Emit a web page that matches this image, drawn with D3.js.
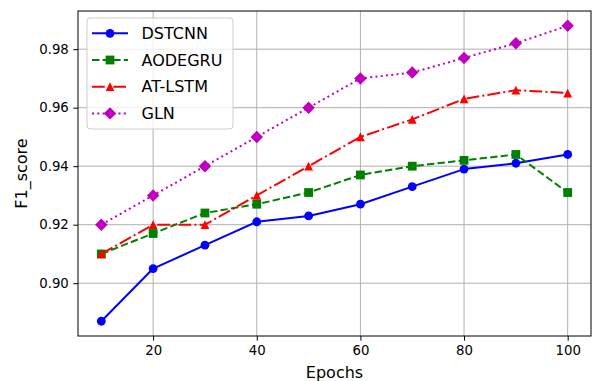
<!DOCTYPE html>
<html>
<head>
<meta charset="utf-8">
<script src="https://cdn.jsdelivr.net/npm/d3@7"></script>
<style>
body { margin: 0; background: white; }
text { font-family: "DejaVu Sans", sans-serif; fill: black; }
</style>
</head>
<body>
<svg width="594" height="381"></svg>
<script>
var width = 594, height = 381;

var epochs = [10, 20, 30, 40, 50, 60, 70, 80, 90, 100];
var dstcnn  = [0.887, 0.905, 0.913, 0.921, 0.923, 0.927, 0.933, 0.939, 0.941, 0.944];
var aodegru = [0.910, 0.917, 0.924, 0.927, 0.931, 0.937, 0.940, 0.942, 0.944, 0.931];
var atlstm  = [0.910, 0.920, 0.920, 0.930, 0.940, 0.950, 0.956, 0.963, 0.966, 0.965];
var gln     = [0.920, 0.930, 0.940, 0.950, 0.960, 0.970, 0.972, 0.977, 0.982, 0.988];
var xTicks = [20, 40, 60, 80, 100];
var yTicks = [0.90, 0.92, 0.94, 0.96, 0.98];

var series = [
    {name: 'DSTCNN',  values: dstcnn,  color: '#0000ff', dash: null,            marker: 'circle'},
    {name: 'AODEGRU', values: aodegru, color: '#008000', dash: '7.4,3.2',       marker: 'square'},
    {name: 'AT-LSTM', values: atlstm,  color: '#ff0000', dash: '12.8,3.2,2,3.2', marker: 'triangle'},
    {name: 'GLN',     values: gln,     color: '#bf00bf', dash: '2,3.3',         marker: 'diamond'}
];

// plot area edges
var pLeft = 78, pTop = 11, pRight = 591, pBottom = 336;
var ms = 8.8; // marker size in px

var svg = d3.select('svg');

var x = d3.scaleLinear().domain([5.5, 104.5]).range([pLeft, pRight]);
var y = d3.scaleLinear().domain([0.88195, 0.99305]).range([pBottom, pTop]);

// grid
svg.append('g').selectAll('line')
    .data(xTicks).enter().append('line')
    .attr('x1', function(d) { return x(d); }).attr('x2', function(d) { return x(d); })
    .attr('y1', pTop).attr('y2', pBottom)
    .attr('stroke', '#b0b0b0').attr('stroke-width', 1);
svg.append('g').selectAll('line')
    .data(yTicks).enter().append('line')
    .attr('y1', function(d) { return y(d); }).attr('y2', function(d) { return y(d); })
    .attr('x1', pLeft).attr('x2', pRight)
    .attr('stroke', '#b0b0b0').attr('stroke-width', 1);

// axes
var xAxis = svg.append('g')
    .attr('transform', 'translate(0,' + pBottom + ')')
    .call(d3.axisBottom(x).tickValues(xTicks).tickSize(4.7).tickPadding(4.5).tickFormat(d3.format('d')));
var yAxis = svg.append('g')
    .attr('transform', 'translate(' + pLeft + ',0)')
    .call(d3.axisLeft(y).tickValues(yTicks).tickSize(4.7).tickPadding(4.5).tickFormat(d3.format('.2f')));
[xAxis, yAxis].forEach(function(a) {
    a.select('.domain').remove();
    a.selectAll('text').style('font-size', '13.3px').attr('fill', 'black');
    a.selectAll('line').attr('stroke', 'black').attr('stroke-width', 1);
});

// frame
svg.append('rect')
    .attr('x', pLeft).attr('y', pTop)
    .attr('width', pRight - pLeft).attr('height', pBottom - pTop)
    .attr('fill', 'none').attr('stroke', 'black').attr('stroke-width', 1);

var symbols = {
    circle: d3.symbol().type(d3.symbolCircle).size(Math.PI * ms * ms / 4),
    square: d3.symbol().type(d3.symbolSquare).size(ms * ms),
    diamond: d3.symbol().type(d3.symbolSquare).size(ms * ms)
};
function markerPath(m) {
    var h = ms / 2;
    if (m === 'triangle') return 'M0,' + (-h) + 'L' + h + ',' + h + 'L' + (-h) + ',' + h + 'Z';
    return symbols[m]();
}
function markerTransform(m, px, py) {
    return 'translate(' + px + ',' + py + ')' + (m === 'diamond' ? 'rotate(45)' : '');
}

var line = d3.line()
    .x(function(d, i) { return x(epochs[i]); })
    .y(function(d) { return y(d); });

var gLines = svg.append('g');
series.forEach(function(s) {
    var g = gLines.append('g');
    g.append('path')
        .attr('d', line(s.values))
        .attr('fill', 'none')
        .attr('stroke', s.color)
        .attr('stroke-width', 2)
        .attr('stroke-dasharray', s.dash)
        .attr('stroke-linejoin', 'round');
    g.selectAll('.pt')
        .data(s.values).enter()
        .append('path')
        .attr('class', 'pt')
        .attr('d', markerPath(s.marker))
        .attr('transform', function(d, i) { return markerTransform(s.marker, x(epochs[i]), y(d)); })
        .attr('fill', s.color);
});

// legend
var legend = svg.append('g');
legend.append('rect')
    .attr('x', 87).attr('y', 18)
    .attr('width', 146).attr('height', 111)
    .attr('rx', 3)
    .attr('fill', 'white').attr('fill-opacity', 0.8)
    .attr('stroke', '#cccccc').attr('stroke-width', 1);
series.forEach(function(s, i) {
    var ly = 33.3 + i * 26.7;
    legend.append('line')
        .attr('x1', 92).attr('x2', 128)
        .attr('y1', ly).attr('y2', ly)
        .attr('stroke', s.color).attr('stroke-width', 2)
        .attr('stroke-dasharray', s.dash);
    legend.append('path')
        .attr('d', markerPath(s.marker))
        .attr('transform', markerTransform(s.marker, 110, ly))
        .attr('fill', s.color);
    legend.append('text')
        .attr('x', 141.5).attr('y', ly)
        .attr('dy', '0.36em')
        .style('font-size', '16px')
        .text(s.name);
});

// axis labels
svg.append('text')
    .attr('x', (pLeft + pRight) / 2).attr('y', 378)
    .attr('text-anchor', 'middle')
    .style('font-size', '16px')
    .text('Epochs');
svg.append('text')
    .attr('transform', 'translate(27,' + (pTop + pBottom) / 2 + ') rotate(-90)')
    .attr('text-anchor', 'middle')
    .style('font-size', '16px')
    .text('F1_score');
</script>
</body>
</html>
